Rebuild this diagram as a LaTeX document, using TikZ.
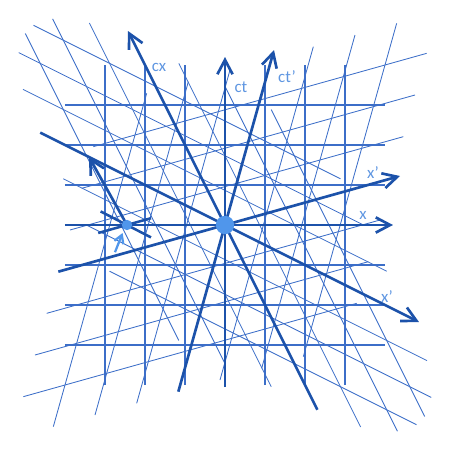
\documentclass[tikz,border=0pt]{standalone}
\usepackage{fontspec}
\setmainfont{Carlito}
\usepackage{tikz}
\usetikzlibrary{arrows.meta}
\usetikzlibrary{calc}
\usetikzlibrary{positioning}
\definecolor{gridblue}{RGB}{60,110,200}
\definecolor{axisblue}{RGB}{28,82,170}
\definecolor{labelblue}{RGB}{95,150,225}
\definecolor{dotblue}{RGB}{80,150,235}

\tikzset{
  gridline/.style={draw=gridblue, line width=0.6pt},
  restline/.style={draw=gridblue, line width=0.9pt},
  axisline/.style={draw=axisblue, line width=1.9pt, -{Straight Barb[length=3.6mm,width=3.8mm]}},
  eventline/.style={draw=axisblue, line width=1.8pt},
  axislabel/.style={text=labelblue, font=\fontsize{12}{12}\selectfont, inner sep=0pt},
  frameA/.style={cm={1.041667,0.291667,0.291667,1.041667,(0,0)}},
  frameB/.style={cm={1.154701,-0.577350,-0.577350,1.154701,(0,0)}},
}

\begin{document}
\begin{tikzpicture}
    \useasboundingbox (-5.625,-5.625) rectangle (5.625,5.625);
    % rest frame grid
    \foreach \n in {-3,-2,-1,1,2,3} {
      \draw[restline] (\n,-4) -- (\n,4);
      \draw[restline] (-4,\n) -- (4,\n);
    }
    % frame moving to the right
    \begin{scope}[frameA]
      \foreach \n in {-3,-2,-1,1,2,3} {
        \draw[gridline] (\n,-4) -- (\n,4);
        \draw[gridline] (-4,\n) -- (4,\n);
      }
      \coordinate (xAL) at (-4,0);
      \coordinate (xAR) at (4.2,0);
      \coordinate (tAB) at (0,-4);
      \coordinate (tAT) at (0,4.2);
    \end{scope}
    % frame moving to the left
    \begin{scope}[frameB]
      \foreach \n in {1,2,3} {
        \pgfmathsetmacro{\r}{sqrt(16-\n*\n)}
        \draw[gridline] (-\r,\n) -- (4,\n);
        \draw[gridline] (-4,-\n) -- (\r,-\n);
        \draw[gridline] (\n,-\r) -- (\n,4);
        \draw[gridline] (-\n,-4) -- (-\n,\r);
      }
      \coordinate (xBL) at (-4,0);
      \coordinate (xBR) at (4.2,0);
      \coordinate (tBB) at (0,-4);
      \coordinate (tBT) at (0,4.2);
    \end{scope}
    % axes
    \coordinate (xL) at (-4,0);
    \coordinate (xR) at (4.2,0);
    \coordinate (tB) at (0,-4.05);
    \coordinate (tT) at (0,4.2);
    \draw[axisline] (xL) -- (xR);
    \draw[axisline] (tB) -- (tT);
    \draw[axisline] (xAL) -- (xAR);
    \draw[axisline] (tAB) -- (tAT);
    \draw[axisline] (xBL) -- (xBR);
    \draw[axisline] (tBB) -- (tBT);
    \node[axislabel] (lx) at (3.45,0.25) {x};
    \node[axislabel] (lct) at (0.4,3.45) {ct};
    \node[axislabel] (lxA) at (3.7,1.3) {x'};
    \node[axislabel] (lctA) at (1.55,3.7) {ct'};
    \node[axislabel] (lxB) at (4.05,-1.8) {x'};
    \node[axislabel] (lcx) at (-1.65,3.95) {cx};
    % event on the x axis
    \coordinate (E) at (-2.45,0);
    \coordinate (EBl) at ($(E)+(-0.66,0.34)$);
    \coordinate (EBr) at ($(E)+(0.6,-0.31)$);
    \coordinate (EAl) at ($(E)+(-0.72,-0.2)$);
    \coordinate (EAr) at ($(E)+(0.6,0.17)$);
    \coordinate (Eup) at (-3.4,1.7);
    \coordinate (Pa) at (-2.75,-0.68);
    \coordinate (Pb) at (-2.56,-0.2);
    \draw[eventline] (EBl) -- (EBr);
    \draw[eventline] (EAl) -- (EAr);
    \draw[axisline] (E) -- (Eup);
    \draw[draw=dotblue, line width=1.6pt, -{Straight Barb[length=2mm,width=2.4mm]}] (Pa) -- (Pb);
    \node[circle, fill=dotblue, inner sep=0pt, minimum size=0.26cm] (ev) at (E) {};
    \node[circle, fill=dotblue, inner sep=0pt, minimum size=0.46cm] (O) at (0,0) {};
\end{tikzpicture}
\end{document}
